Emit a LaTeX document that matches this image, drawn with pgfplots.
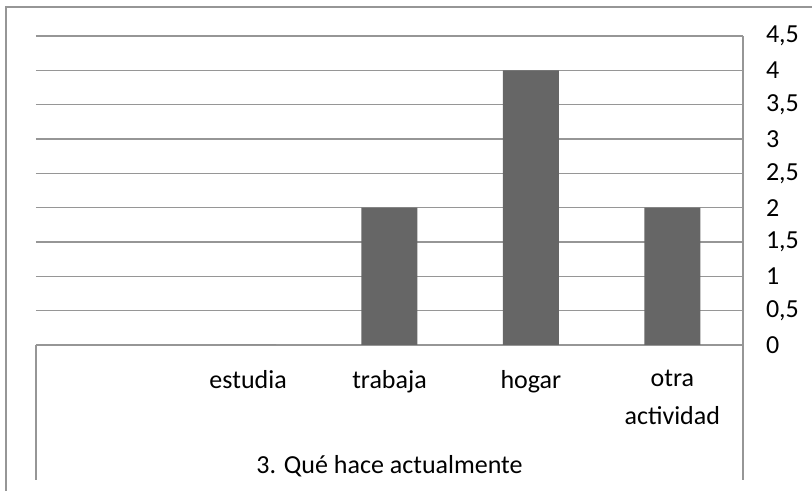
\documentclass[border=0pt]{standalone}
\usepackage{pgfplots}
\pgfplotsset{compat=1.18}
\usepackage{fontspec}
\setmainfont{Carlito}
\definecolor{gridc}{RGB}{150,150,150}
\definecolor{barc}{RGB}{102,102,102}
\begin{document}
\begin{tikzpicture}
\path[use as bounding box, clip] (0,0) rectangle (406pt,245.5pt);
\begin{axis}[
  at={(18pt,73pt)}, anchor=south west,
  scale only axis, width=353.5pt, height=154.5pt,
  xmin=-0.5, xmax=4.5, ymin=0, ymax=4.5,
  axis x line*=bottom, axis y line*=right,
  axis line style={draw=gridc, line width=0.8pt, -},
  ymajorgrids, grid style={draw=gridc, line width=0.8pt},
  major tick length=0,
  ytick={0,0.5,1,1.5,2,2.5,3,3.5,4,4.5},
  /pgf/number format/assume math mode=true,
  tick label style={font=\fontsize{13}{16.5}\selectfont},
  yticklabel style={/pgf/number format/.cd, fixed, use comma, precision=1, /tikz/.cd, anchor=west, xshift=8pt},
  xtick={0,1,2,3,4},
  xticklabels={{},estudia,trabaja,hogar,{otra\\[2.5pt]actividad}},
  xticklabel style={align=center, anchor=north, yshift=-9pt},
  xlabel={3. Qué hace actualmente},
  xlabel style={font=\fontsize{13}{16}\selectfont, at={(axis description cs:0.5,0)}, anchor=center, yshift=-60.5pt},
  ybar, bar width=28pt,
]
\addplot[fill=barc, draw=none] coordinates {(1,0) (2,2) (3,4) (4,2)};
\end{axis}
\draw[gridc, line width=0.8pt] (18pt,73pt) -- (18pt,5.5pt);
\draw[gridc, line width=0.8pt] (371.5pt,73pt) -- (371.5pt,5.5pt);
\draw[gridc, line width=0.8pt] (3pt,-5pt) -- (3pt,242pt) -- (420pt,242pt);
\end{tikzpicture}
\end{document}
